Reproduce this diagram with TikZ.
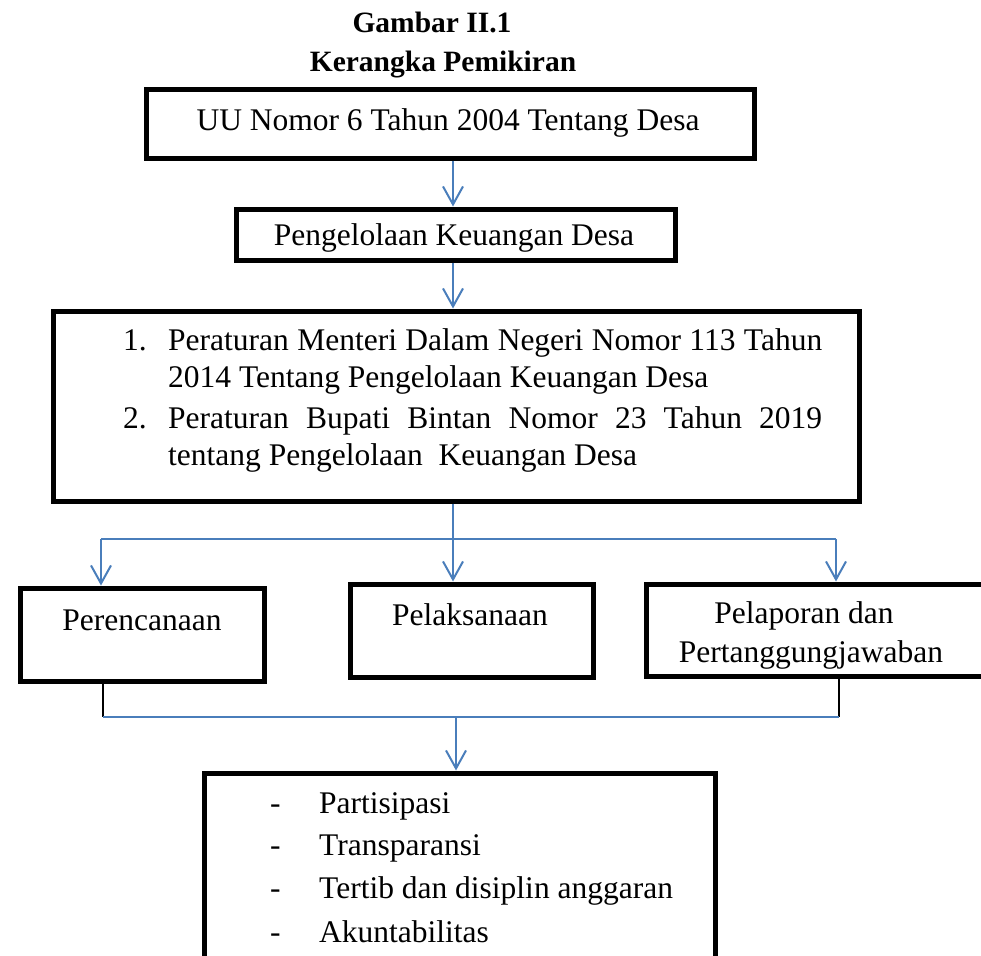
\documentclass[tikz,border=0pt]{standalone}
\usepackage{fontspec}
\setmainfont{Liberation Serif}
\usetikzlibrary{arrows.meta}
\definecolor{conn}{RGB}{74,126,187}
\begin{document}
\begin{tikzpicture}[x=1pt,y=-1pt,
  box/.style={draw=black,line width=5pt,rectangle,inner sep=0pt},
  txt/.style={inner sep=0pt,font=\fontsize{31.5}{37}\selectfont},
  ttl/.style={inner sep=0pt,font=\fontsize{29.5}{34}\selectfont\bfseries},
  cline/.style={draw=conn,line width=2pt},
  arr/.style={cline,-{Straight Barb[length=18pt,width=20pt,line width=2pt]}},
  bline/.style={draw=black,line width=1.6pt}]
\useasboundingbox (0,0) rectangle (981,955);
\clip (0,0) rectangle (981,955);

% title
\node[ttl,anchor=base] (t1) at (432,33) {Gambar II.1};
\node[ttl,anchor=base] (t2) at (443,72) {Kerangka Pemikiran};

% boxes
\node[box,minimum width=608pt,minimum height=68pt] (b1) at (450,124) {};
\node[box,minimum width=439pt,minimum height=51pt] (b2) at (455.5,234.5) {};
\node[box,minimum width=806pt,minimum height=190pt] (b3) at (456,406) {};
\node[box,minimum width=244pt,minimum height=93pt] (p1) at (142,634.5) {};
\node[box,minimum width=243pt,minimum height=93pt] (p2) at (471.5,630.5) {};
\node[box,minimum width=342pt,minimum height=92pt] (p3) at (817,630) {};
\node[box,minimum width=511pt,minimum height=226pt] (b4) at (459.5,886) {};

% texts
\node[txt,anchor=base] (x1) at (448,130) {UU Nomor 6 Tahun 2004 Tentang Desa};
\node[txt,anchor=base] (x2) at (454,245) {Pengelolaan Keuangan Desa};
\node[txt,anchor=base west] (n1) at (123,350) {1.};
\node[txt,anchor=base west] (l1) at (168,350) {\makebox[654pt][s]{Peraturan Menteri Dalam Negeri Nomor 113 Tahun}};
\node[txt,anchor=base west] (l2) at (168,387) {2014 Tentang Pengelolaan Keuangan Desa};
\node[txt,anchor=base west] (n2) at (123,428) {2.};
\node[txt,anchor=base west] (l3) at (168,428) {\makebox[654pt][s]{Peraturan Bupati Bintan Nomor 23 Tahun 2019}};
\node[txt,anchor=base west] (l4) at (168,465) {tentang Pengelolaan\ \ Keuangan Desa};
\node[txt,anchor=base] (y1) at (142,630) {Perencanaan};
\node[txt,anchor=base] (y2) at (470,625) {Pelaksanaan};
\node[txt,anchor=base] (y3) at (804,623) {Pelaporan dan};
\node[txt,anchor=base] (y4) at (811,662) {Pertanggungjawaban};
\node[txt,anchor=base west] (d1) at (270,813) {-};
\node[txt,anchor=base west] (z1) at (319,813) {Partisipasi};
\node[txt,anchor=base west] (d2) at (270,855) {-};
\node[txt,anchor=base west] (z2) at (319,855) {Transparansi};
\node[txt,anchor=base west] (d3) at (270,898) {-};
\node[txt,anchor=base west] (z3) at (319,898) {Tertib dan disiplin anggaran};
\node[txt,anchor=base west] (d4) at (270,942) {-};
\node[txt,anchor=base west] (z4) at (319,942) {Akuntabilitas};

% connectors
\coordinate (a1) at (453,0);
\draw[arr] (a1 |- b1.south) -- (a1 |- b2.north);
\draw[arr] (a1 |- b2.south) -- (a1 |- b3.north);
\coordinate (tl) at (101,539);
\coordinate (tr) at (836,539);
\draw[arr] (a1 |- b3.south) -- (a1 |- p2.north);
\draw[cline] (tl) -- (tr);
\draw[arr] (tl) -- (tl |- p1.north);
\draw[arr] (tr) -- (tr |- p3.north);
\coordinate (bl) at (103,717);
\coordinate (br) at (839,717);
\coordinate (bm) at (456,717);
\draw[bline] (bl |- p1.south) -- (bl);
\draw[bline] (br |- p3.south) -- (br);
\draw[cline] (bl) -- (br);
\draw[arr] (bm) -- (bm |- b4.north);
\end{tikzpicture}
\end{document}
